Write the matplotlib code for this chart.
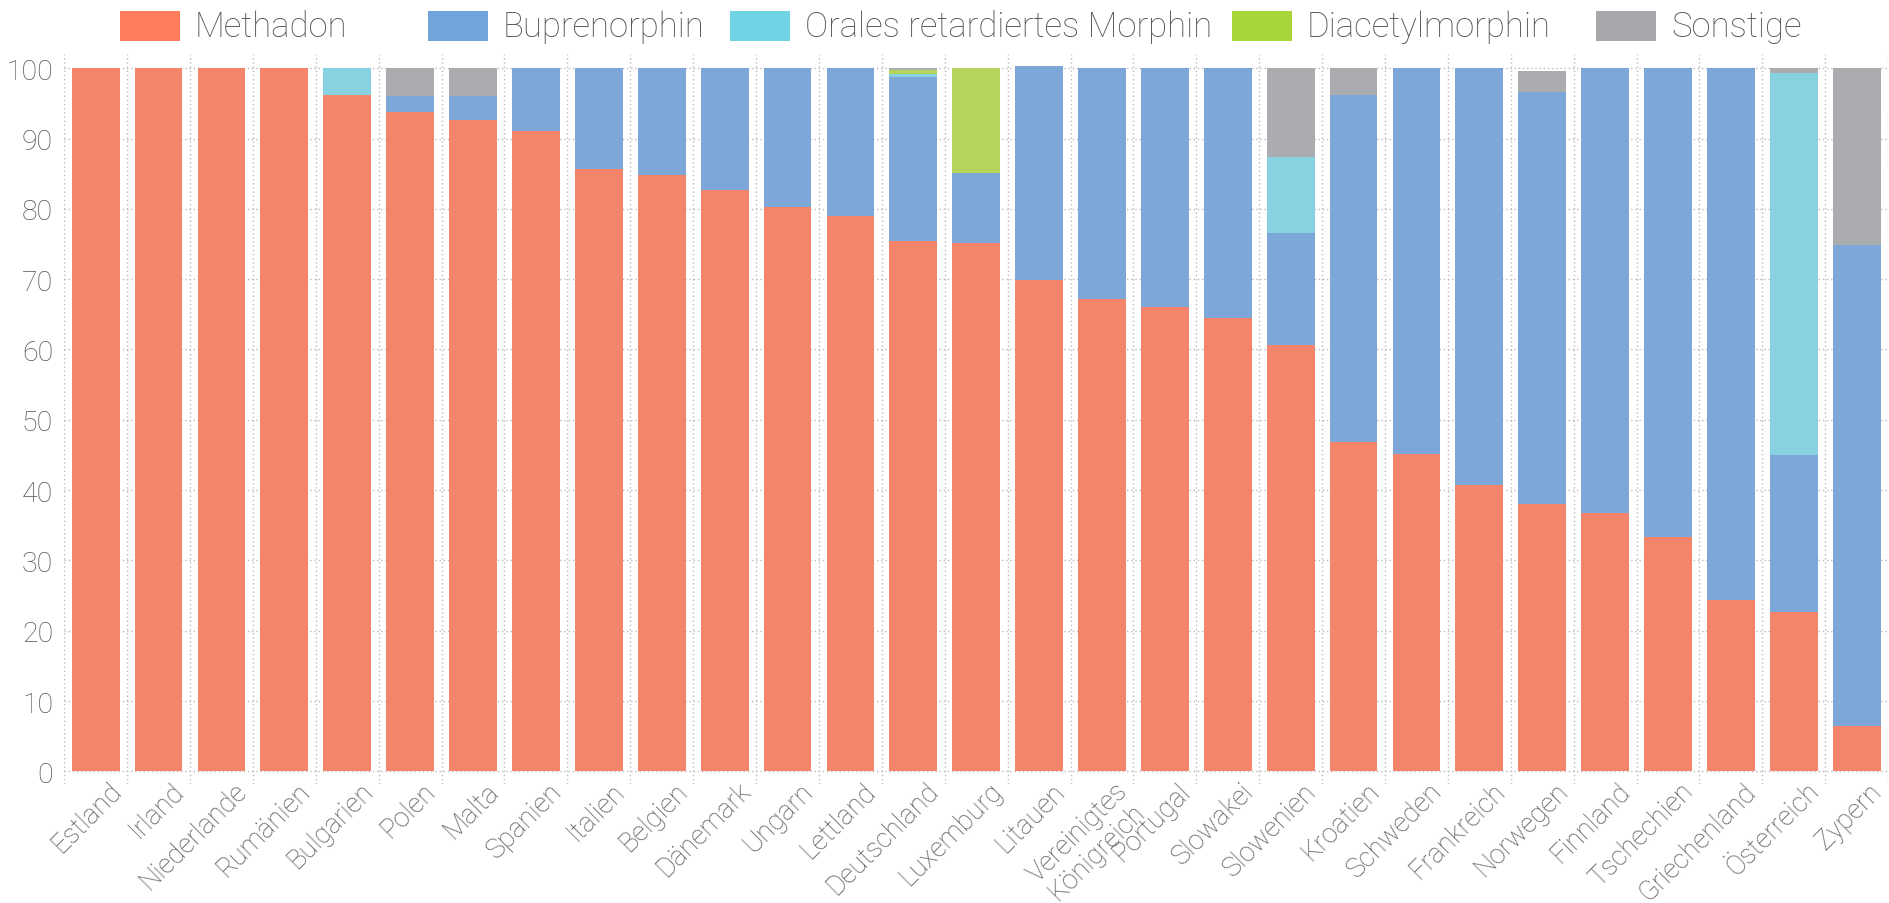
import matplotlib
matplotlib.use("Agg")
import matplotlib.pyplot as plt
from matplotlib.patches import Rectangle
from matplotlib.transforms import ScaledTranslation
import numpy as np

countries = [
    "Estland", "Irland", "Niederlande", "Rumänien", "Bulgarien", "Polen",
    "Malta", "Spanien", "Italien", "Belgien", "Dänemark", "Ungarn",
    "Lettland", "Deutschland", "Luxemburg", "Litauen",
    "Vereinigtes\nKönigreich", "Portugal", "Slowakei", "Slowenien",
    "Kroatien", "Schweden", "Frankreich", "Norwegen", "Finnland",
    "Tschechien", "Griechenland", "Österreich", "Zypern",
]

methadon = [100, 100, 100, 100, 96.2, 93.8, 92.6, 91.1, 85.6, 84.8, 82.7,
            80.2, 79.0, 75.4, 75.1, 69.9, 67.2, 66.0, 64.5, 60.6, 46.8,
            45.2, 40.7, 38.0, 36.8, 33.3, 24.4, 22.7, 6.4]
buprenorphin = [0, 0, 0, 0, 0, 2.2, 3.4, 8.9, 14.4, 15.2, 17.3, 19.8, 21.0,
                23.4, 10.0, 30.4, 32.8, 34.0, 35.5, 16.0, 49.4, 54.9, 59.3,
                58.6, 63.2, 66.8, 75.6, 22.3, 68.4]
oral_morphin = [0, 0, 0, 0, 3.8, 0, 0, 0, 0, 0, 0, 0, 0, 0.4, 0, 0, 0, 0, 0,
                10.8, 0, 0, 0, 0, 0, 0, 0, 54.3, 0]
diacetylmorphin = [0, 0, 0, 0, 0, 0, 0, 0, 0, 0, 0, 0, 0, 0.5, 14.9, 0, 0,
                   0, 0, 0, 0, 0, 0, 0, 0, 0, 0, 0, 0]
sonstige = [0, 0, 0, 0, 0, 4.0, 4.0, 0, 0, 0, 0, 0, 0, 0.3, 0, 0, 0, 0, 0,
            12.6, 3.8, 0, 0, 3.0, 0, 0, 0, 0.7, 25.2]

series_names = ["Methadon", "Buprenorphin", "Orales retardiertes Morphin",
                "Diacetylmorphin", "Sonstige"]
series_values = [methadon, buprenorphin, oral_morphin, diacetylmorphin, sonstige]

bar_colors = ["#F4856A", "#7DA7D9", "#87D1E0", "#B5D55A", "#ABACB0"]
legend_colors = ["#FF7B5C", "#72A4DC", "#6ED3E3", "#A8D63A", "#A8A8AC"]
text_color = "#555555"

plt.rcParams["font.family"] = ["Roboto", "DejaVu Sans"]
plt.rcParams["font.weight"] = "light"

W, H = 1890, 904
fig = plt.figure(figsize=(W / 100, H / 100), dpi=100)
ax = fig.add_axes([0.034, 0.1316, 0.965, 0.8074])

x = np.arange(len(countries))
bottom = np.zeros(len(countries))
for vals, col in zip(series_values, bar_colors):
    v = np.array(vals, dtype=float)
    ax.bar(x, v, bottom=bottom, width=0.76, color=col, linewidth=0, zorder=3)
    bottom += v

ax.set_xlim(-0.5, len(countries) - 0.5)
ax.set_ylim(-1.8, 102.0)
ax.set_yticks(np.arange(0, 101, 10))
ax.set_xticks(x)
ax.set_xticklabels(countries, rotation=45, ha="right", va="top",
                   rotation_mode="anchor", multialignment="center",
                   linespacing=1.0, fontsize=19.5, color=text_color)
ax.tick_params(axis="y", labelsize=20.5, labelcolor=text_color, length=0,
               pad=8)
ax.tick_params(axis="x", length=0, pad=0)
shift = ScaledTranslation(12 / 100, 7 / 100, fig.dpi_scale_trans)
for lbl in ax.get_xticklabels():
    lbl.set_transform(lbl.get_transform() + shift)

# horizontal dotted grid at each y tick
for yv in np.arange(0, 101, 10):
    ax.axhline(yv, color="#BBBBBB", linestyle=(0, (1, 2)), linewidth=1.0,
               zorder=1)
# vertical dotted separators between categories
for xv in np.arange(-0.5, len(countries), 1.0):
    ax.axvline(xv, color="#BBBBBB", linestyle=(0, (1, 2)), linewidth=1.0,
               zorder=1)

for s in ax.spines.values():
    s.set_visible(False)

# legend row laid out in figure pixels
legend_left = [120, 428, 730, 1232, 1596]
swatch_w, swatch_h, legend_yc = 60, 30, 27
for left, name, col in zip(legend_left, series_names, legend_colors):
    fig.add_artist(Rectangle((left / W, 1 - (legend_yc + swatch_h / 2) / H),
                             swatch_w / W, swatch_h / H,
                             transform=fig.transFigure, facecolor=col,
                             edgecolor="none"))
    fig.text((left + swatch_w + 15) / W, 1 - legend_yc / H, name,
             ha="left", va="center", fontsize=25, color=text_color)

fig.savefig("out.png", dpi=100)
